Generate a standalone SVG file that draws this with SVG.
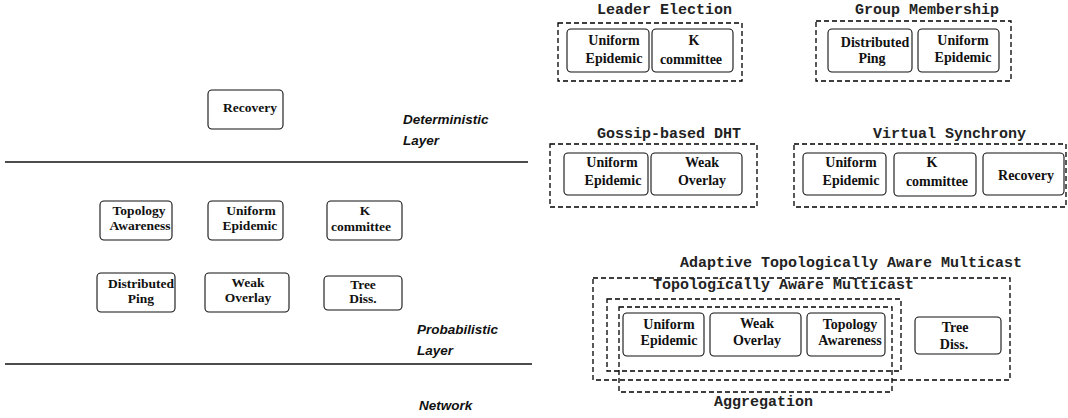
<svg xmlns="http://www.w3.org/2000/svg" width="1068" height="418" viewBox="0 0 1068 418">
  <style>
    .box { fill: #fff; stroke: #111; stroke-width: 1.1; }
    .grp { fill: none; stroke: #000; stroke-width: 1.3; stroke-dasharray: 5 3; }
    .sep { stroke: #111; stroke-width: 1.3; }
    .lbl { font-family: "Liberation Serif", "DejaVu Serif", "Times New Roman", serif; font-weight: bold; font-size: 13.5px; fill: #111; text-anchor: middle; }
    .lbr { font-family: "Liberation Serif", "DejaVu Serif", "Times New Roman", serif; font-weight: bold; font-size: 14px; fill: #111; text-anchor: middle; }
    .ttl { font-family: "Liberation Mono", "Courier New", monospace; font-weight: bold; font-size: 15px; fill: #222; }
    .layer { font-family: "Liberation Sans", Arial, sans-serif; font-weight: bold; font-style: italic; font-size: 13.5px; fill: #111; }
  </style>

  <!-- Layer separators and layer names -->
  <g id="layers">
    <line class="sep" x1="5" y1="162" x2="528" y2="162"/>
    <line class="sep" x1="5" y1="364" x2="532" y2="364"/>
    <text class="layer" x="403" y="124">Deterministic</text>
    <text class="layer" x="403" y="145">Layer</text>
    <text class="layer" x="417" y="334">Probabilistic</text>
    <text class="layer" x="417" y="355">Layer</text>
    <text class="layer" x="419" y="410">Network</text>
  </g>

  <!-- Building blocks per layer -->
  <g id="recovery">
    <rect class="box" x="208" y="90" width="75" height="39" rx="4"/>
    <text class="lbl" x="250" y="112">Recovery</text>
  </g>
  <g id="topology-awareness">
    <rect class="box" x="100" y="201" width="72" height="39" rx="4"/>
    <text class="lbl" x="139" y="215">Topology</text>
    <text class="lbl" x="140" y="230">Awareness</text>
  </g>
  <g id="uniform-epidemic">
    <rect class="box" x="208" y="201" width="75" height="39" rx="4"/>
    <text class="lbl" x="251" y="215">Uniform</text>
    <text class="lbl" x="250" y="230">Epidemic</text>
  </g>
  <g id="k-committee">
    <rect class="box" x="327" y="201" width="75" height="39" rx="4"/>
    <text class="lbl" x="365" y="215">K</text>
    <text class="lbl" x="361" y="231">committee</text>
  </g>
  <g id="distributed-ping">
    <rect class="box" x="97" y="273" width="78" height="39" rx="4"/>
    <text class="lbl" x="141" y="288">Distributed</text>
    <text class="lbl" x="141" y="303">Ping</text>
  </g>
  <g id="weak-overlay">
    <rect class="box" x="205" y="273" width="84" height="39" rx="4"/>
    <text class="lbl" x="248" y="287">Weak</text>
    <text class="lbl" x="248" y="302">Overlay</text>
  </g>
  <g id="tree-diss">
    <rect class="box" x="324" y="276" width="78" height="34" rx="4"/>
    <text class="lbl" x="363" y="289">Tree</text>
    <text class="lbl" x="363" y="303">Diss.</text>
  </g>

  <!-- Composite services -->
  <g id="leader-election">
    <text class="ttl" x="597" y="14">Leader Election</text>
    <rect class="grp" x="558" y="23" width="184" height="58"/>
    <rect class="box" x="567" y="29" width="82" height="43" rx="4"/>
    <text class="lbr" x="614" y="45">Uniform</text>
    <text class="lbr" x="614" y="63">Epidemic</text>
    <rect class="box" x="652" y="29" width="81" height="43" rx="4"/>
    <text class="lbr" x="694" y="45">K</text>
    <text class="lbr" x="691" y="64">committee</text>
  </g>

  <g id="group-membership">
    <text class="ttl" x="855" y="14">Group Membership</text>
    <rect class="grp" x="816" y="21" width="195" height="60"/>
    <rect class="box" x="828" y="29" width="84" height="43" rx="4"/>
    <text class="lbr" x="875" y="47">Distributed</text>
    <text class="lbr" x="872" y="63">Ping</text>
    <rect class="box" x="918" y="29" width="81" height="43" rx="4"/>
    <text class="lbr" x="963" y="45">Uniform</text>
    <text class="lbr" x="963" y="62">Epidemic</text>
  </g>

  <g id="gossip-dht">
    <text class="ttl" x="597" y="138">Gossip-based DHT</text>
    <rect class="grp" x="550" y="144" width="207" height="63"/>
    <rect class="box" x="564" y="153" width="84" height="42" rx="4"/>
    <text class="lbr" x="612" y="167">Uniform</text>
    <text class="lbr" x="613" y="185">Epidemic</text>
    <rect class="box" x="651" y="153" width="91" height="42" rx="4"/>
    <text class="lbr" x="702" y="167">Weak</text>
    <text class="lbr" x="702" y="185">Overlay</text>
  </g>

  <g id="virtual-synchrony">
    <text class="ttl" x="873" y="138">Virtual Synchrony</text>
    <rect class="grp" x="794" y="144" width="272" height="63"/>
    <rect class="box" x="803" y="153" width="83" height="42" rx="4"/>
    <text class="lbr" x="851" y="167">Uniform</text>
    <text class="lbr" x="851" y="185">Epidemic</text>
    <rect class="box" x="894" y="153" width="82" height="43" rx="4"/>
    <text class="lbr" x="932" y="167">K</text>
    <text class="lbr" x="937" y="186">committee</text>
    <rect class="box" x="983" y="153" width="81" height="42" rx="4"/>
    <text class="lbr" x="1026" y="180">Recovery</text>
  </g>

  <g id="multicast">
    <text class="ttl" x="680" y="267">Adaptive Topologically Aware Multicast</text>
    <rect class="grp" x="593" y="278" width="417" height="102"/>
    <text class="ttl" x="653" y="289">Topologically Aware Multicast</text>
    <rect class="grp" x="607" y="299" width="294" height="72"/>
    <rect class="grp" x="619" y="307" width="273" height="85"/>
    <text class="ttl" x="714" y="406">Aggregation</text>
    <rect class="box" x="623" y="313" width="81" height="43" rx="4"/>
    <text class="lbr" x="669" y="329">Uniform</text>
    <text class="lbr" x="669" y="345">Epidemic</text>
    <rect class="box" x="710" y="313" width="91" height="43" rx="4"/>
    <text class="lbr" x="757" y="328">Weak</text>
    <text class="lbr" x="757" y="345">Overlay</text>
    <rect class="box" x="807" y="313" width="78" height="43" rx="4"/>
    <text class="lbr" x="850" y="329">Topology</text>
    <text class="lbr" x="850" y="345">Awareness</text>
    <rect class="box" x="915" y="317" width="86" height="37" rx="4"/>
    <text class="lbr" x="955" y="332">Tree</text>
    <text class="lbr" x="954" y="349">Diss.</text>
  </g>
</svg>
